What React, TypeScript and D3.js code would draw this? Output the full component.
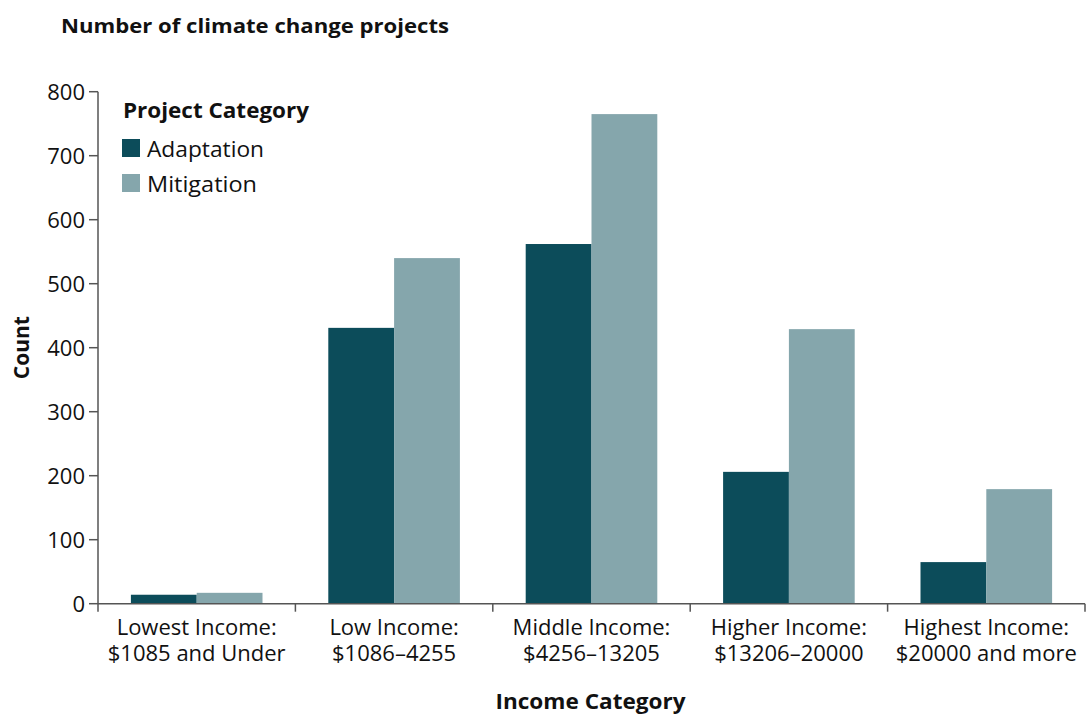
import React from "react";
import * as d3 from "d3";

const categories = [
  ["Lowest Income:", "$1085 and Under"],
  ["Low Income:", "$1086–4255"],
  ["Middle Income:", "$4256–13205"],
  ["Higher Income:", "$13206–20000"],
  ["Highest Income:", "$20000 and more"],
];
const seriesNames = ["Adaptation", "Mitigation"];
const adaptation = [14, 431, 562, 206, 65];
const mitigation = [17, 540, 765, 429, 179];
const yTicks = [0, 100, 200, 300, 400, 500, 600, 700, 800];
const colors = ["#0c4c5a", "#85a6ac"];

const W = 1087, H = 715;
const left = 98, right = 1085, top = 91.7, bottom = 603.7;
const FONT = "'Open Sans', Lato, sans-serif";

export default function App() {
  const x = d3.scaleBand<number>().domain(d3.range(categories.length)).range([left, right]).paddingInner(0).paddingOuter(0);
  const xs = d3.scaleBand<number>().domain([0, 1]).range([0, x.bandwidth()]).paddingInner(0).paddingOuter(0.5);
  const y = d3.scaleLinear().domain([0, 800]).range([bottom, top]);
  const series = [adaptation, mitigation];
  const boundaries = d3.range(categories.length + 1).map((i) => left + i * x.step());
  const legendWidths = [117, 110];
  return (
    <svg width={W} height={H} style={{ position: "absolute", left: 0, top: 0, background: "#fff" }} fontFamily={FONT}>
      <text x={61} y={33} fontSize={20} fontWeight={700} fill="#111" textLength={388} lengthAdjust="spacingAndGlyphs">Number of climate change projects</text>
      {series.map((vals, s) =>
        vals.map((v, i) => (
          <rect key={s + "-" + i} x={(x(i) as number) + (xs(s) as number)} y={y(v)} width={xs.bandwidth()} height={bottom - y(v)} fill={colors[s]} />
        ))
      )}
      {/* y axis */}
      <line x1={left} x2={left} y1={top} y2={bottom} stroke="#555" strokeWidth={1.5} />
      {yTicks.map((t) => (
        <g key={t}>
          <line x1={left - 9} x2={left} y1={y(t)} y2={y(t)} stroke="#555" strokeWidth={1.5} />
          <text x={left - 13} y={y(t)} dy="0.36em" textAnchor="end" fontSize={22} fill="#111">{t}</text>
        </g>
      ))}
      {/* x axis */}
      <line x1={left} x2={right} y1={bottom} y2={bottom} stroke="#555" strokeWidth={1.5} />
      {boundaries.map((b, i) => (
        <line key={i} x1={b} x2={b} y1={bottom} y2={bottom + 8} stroke="#555" strokeWidth={1.5} />
      ))}
      {categories.map((c, i) => (
        <text key={i} x={(x(i) as number) + x.bandwidth() / 2} textAnchor="middle" fontSize={22} fill="#111">
          <tspan x={(x(i) as number) + x.bandwidth() / 2} y={635}>{c[0]}</tspan>
          <tspan x={(x(i) as number) + x.bandwidth() / 2} y={661}>{c[1]}</tspan>
        </text>
      ))}
      <text x={(left + right) / 2 - 1} y={709} textAnchor="middle" fontSize={21} fontWeight={700} fill="#111" textLength={190} lengthAdjust="spacingAndGlyphs">Income Category</text>
      <text transform={`translate(29,${(top + bottom) / 2}) rotate(-90)`} textAnchor="middle" fontSize={21} fontWeight={700} fill="#111">Count</text>
      {/* legend */}
      <text x={123} y={118} fontSize={21} fontWeight={700} fill="#111" textLength={186} lengthAdjust="spacingAndGlyphs">Project Category</text>
      {seriesNames.map((n, s) => (
        <g key={n}>
          <rect x={122} y={139 + s * 35} width={18} height={18} fill={colors[s]} />
          <text x={147} y={157 + s * 35} fontSize={22} fill="#111" textLength={legendWidths[s]} lengthAdjust="spacingAndGlyphs">{n}</text>
        </g>
      ))}
    </svg>
  );
}
